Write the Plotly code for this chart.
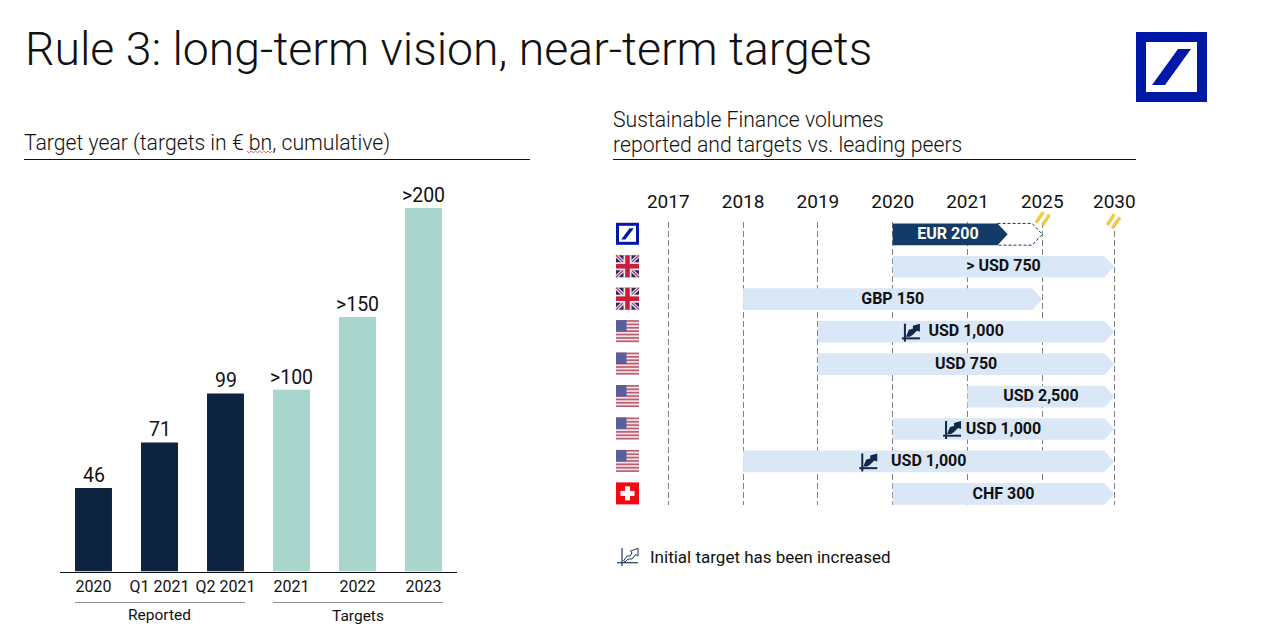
import plotly.graph_objects as go

W, H = 1264, 639
# ---- data
bar_categories = ["2020", "Q1 2021", "Q2 2021", "2021", "2022", "2023"]
bar_values = [46, 71, 98, 100, 140, 200]
bar_labels = ["46", "71", "99", ">100", ">150", ">200"]
bar_colors = ["#0d2340", "#0d2340", "#0d2340", "#a9d6cc", "#a9d6cc", "#a9d6cc"]

years = ["2017", "2018", "2019", "2020", "2021", "2025", "2030"]
year_pos = [0, 1, 2, 3, 4, 5, 5.963]
row_labels = ["EUR 200", "> USD 750", "GBP 150", "USD 1,000", "USD 750", "USD 2,500", "USD 1,000", "USD 1,000", "CHF 300"]
row_start = [3, 3, 1, 2, 2, 4, 3, 1, 3]
row_end = [4.537, 5.963, 5, 5.963, 5.963, 5.963, 5.963, 5.963, 5.963]
row_flags = ["db", "uk", "uk", "us", "us", "us", "us", "us", "ch"]
dashed_target_end = 5
icon_rows = [3, 6, 7]
icon_pos = [3.23, 3.78, 2.66]

BODY = "Roboto"
TXT = "#111111"
LIGHT = "#dae7f6"
NAVY = "#143a68"

# ---- pixel helpers for the page furniture
def px(x): return x / W
def py(y): return 1 - y / H

shapes = []
def rect(x0, y0, x1, y1, color):
    shapes.append(dict(type="rect", xref="paper", yref="paper", x0=px(x0), x1=px(x1), y0=py(y0), y1=py(y1),
                       fillcolor=color, line_width=0, layer="above"))
def line(x0, y0, x1, y1, color, width=1, layer="above"):
    shapes.append(dict(type="line", xref="paper", yref="paper", x0=px(x0), x1=px(x1), y0=py(y0), y1=py(y1),
                       line=dict(color=color, width=width), layer=layer))
def poly(pts, color, outline=None):
    path = "M " + " L ".join(f"{px(a):.5f},{py(b):.5f}" for a, b in pts) + " Z"
    d = dict(type="path", xref="paper", yref="paper", path=path, layer="above")
    if outline:
        d.update(fillcolor="rgba(0,0,0,0)", line=dict(color=outline, width=1))
    else:
        d.update(fillcolor=color, line_width=0)
    shapes.append(d)

def db_logo(x0, y0, size_w, size_h, border):
    blue = "#0018a8"
    rect(x0, y0, x0 + size_w, y0 + size_h, blue)
    rect(x0 + border, y0 + border, x0 + size_w - border, y0 + size_h - border, "white")
    sx, sy = size_w / 71, size_h / 70
    poly([(x0 + 16 * sx, y0 + 53 * sy), (x0 + 42 * sx, y0 + 17 * sy), (x0 + 55 * sx, y0 + 17 * sy), (x0 + 29 * sx, y0 + 53 * sy)], blue)

def uk(cy):
    x0, x1, y0, y1 = 616, 639, cy - 11, cy + 11
    cx = (x0 + x1) / 2
    rect(x0, y0, x1, y1, "#23296a")
    line(x0, y0, x1, y1, "#e6dfe6", 3.6); line(x0, y1, x1, y0, "#e6dfe6", 3.6)
    line(x0, y0, x1, y1, "#b3324c", 1.1); line(x0, y1, x1, y0, "#b3324c", 1.1)
    rect(cx - 4, y0, cx + 4, y1, "#f0e8ec"); rect(x0, cy - 4, x1, cy + 4, "#f0e8ec")
    rect(cx - 2.3, y0, cx + 2.3, y1, "#c8203c"); rect(x0, cy - 2.3, x1, cy + 2.3, "#c8203c")

def us(cy):
    x0, x1, y0, y1 = 616, 639, cy - 11, cy + 11
    rect(x0, y0, x1, y1, "#f3e3e6")
    for i in range(7):
        t = y0 + i * 22 / 6.5
        rect(x0, t, x1, t + 22 / 13, "#bd5f74")
    rect(x0, y0, x0 + 10.5, y0 + 11.5, "#5a5f98")

def ch(cy):
    x0, x1, y0, y1 = 616, 639, cy - 11, cy + 11
    cx = (x0 + x1) / 2
    rect(x0, y0, x1, y1, "#f00a14")
    rect(cx - 7, cy - 2.5, cx + 7, cy + 2.5, "white")
    rect(cx - 2.5, cy - 7, cx + 2.5, cy + 7, "white")

def icon(cx, cy, color="#10294a"):
    line(cx - 5, cy - 8, cx - 5, cy + 10, color, 2)
    line(cx - 8, cy + 6.7, cx + 10, cy + 6.7, color, 2)
    poly([(cx - 4, cy + 5), (cx - 1, cy - 2), (cx + 3, cy - 3), (cx + 3, cy - 6), (cx + 10, cy - 8),
          (cx + 10, cy), (cx + 7, cy - 1), (cx + 3, cy + 3), (cx, cy + 5)], color)

def legend_icon(color="#1d3a5c"):
    line(622, 548, 622, 566, color, 1.2)
    line(617, 562.7, 638, 562.7, color, 1.2)
    poly([(623.5, 561), (627, 556), (630, 556), (632, 553), (630.5, 551), (638, 548.5),
          (638, 556), (635.5, 554.5), (632, 559), (628, 559), (625, 562)], None, outline=color)

# x/y scale of the right-hand panel in page pixels
GX0, GU = 668.3, 74.8
GY0, GR = 234.3, 32.45
def gx(v): return GX0 + GU * v
def gy(r): return GY0 + GR * r

fig = go.Figure()

# ---- left: bars
fig.add_trace(go.Bar(x=bar_categories, y=bar_values, marker=dict(color=bar_colors, line_width=0), width=0.56,
                     cliponaxis=False, xaxis="x", yaxis="y", hoverinfo="x+y", showlegend=False))

# ---- right: timeline arrows
TIP = 0.135
HALF = 0.335
def arrow(a, b, r):
    return [a, b - TIP, b, b - TIP, a, a], [r - HALF, r - HALF, r, r + HALF, r + HALF, r - HALF]

for r, (a, b, lab) in enumerate(zip(row_start, row_end, row_labels)):
    if r == 0:
        xs, ys = arrow(b - TIP, dashed_target_end, r)
        fig.add_trace(go.Scatter(x=xs, y=ys, mode="lines", fill="toself", fillcolor="white",
                                 line=dict(color=NAVY, width=1, dash="3px,2px"),
                                 xaxis="x2", yaxis="y2", hoverinfo="skip", showlegend=False))
    xs, ys = arrow(a, b, r)
    fig.add_trace(go.Scatter(x=xs, y=ys, mode="lines", fill="toself", fillcolor=NAVY if r == 0 else LIGHT,
                             line=dict(width=0), xaxis="x2", yaxis="y2", hoverinfo="skip", showlegend=False))
    fig.add_trace(go.Scatter(x=[(a + b) / 2 - (0.03 if r == 0 else 0)], y=[r + 0.02], mode="text", text=[lab], textposition="middle center",
                             textfont=dict(family=BODY, size=16, weight=700, color="white" if r == 0 else TXT),
                             xaxis="x2", yaxis="y2", hoverinfo="skip", showlegend=False))

# ---- furniture
db_logo(1136, 32, 71, 70, 10)
line(24, 159.5, 530, 159.5, "#111111", 1)
line(613, 159.5, 1136, 159.5, "#111111", 1)
line(75, 602.5, 245, 602.5, "#8a9097", 1)
line(273, 602.5, 443, 602.5, "#8a9097", 1)

# spell-check squiggle under "bn"
sq = [(247 + i * 2.1, 151 + (i % 2) * 1.8) for i in range(13)]
for (a, b), (c, d) in zip(sq, sq[1:]):
    line(a, b, c, d, "#d9534f", 0.9)

for r, f in enumerate(row_flags):
    cy = gy(r) - 0.5
    if f == "db": db_logo(616, cy - 11, 23, 22, 3)
    elif f == "uk": uk(cy)
    elif f == "us": us(cy)
    else: ch(cy)

for r, v in zip(icon_rows, icon_pos):
    icon(gx(v), gy(r))
legend_icon()

for (a, b, c, d) in [(1036, 222.7, 1043.3, 212), (1042.7, 225.3, 1049.3, 214.7),
                     (1107.3, 225, 1114.3, 214.3), (1112.3, 228.3, 1120, 217.3)]:
    line(a, b, c, d, "#f2c84b", 3.4)

def note(x, y, text, size, anchor="left", weight=400, family=BODY):
    dx = -2 if anchor == "left" else 0
    return dict(xref="paper", yref="paper", x=px(x + dx), y=py(y), text=text, showarrow=False, xanchor=anchor, yanchor="middle",
                font=dict(family=family, size=size, color=TXT, weight=weight))

annotations = [
    note(24.5, 49, "Rule 3: long-term vision, near-term targets", 46.4, weight=300),
    note(24, 143, "Target year (targets in € bn, cumulative)", 21.2, weight=300),
    note(613, 119, "Sustainable Finance volumes", 21.2, weight=300),
    note(613, 144, "reported and targets vs. leading peers", 21.2, weight=300),
    note(159.5, 615, "Reported", 15.5, "center"),
    note(358, 616, "Targets", 15.5, "center"),
    note(650, 557, "Initial target has been increased", 17),
]
# value labels above the bars, anchored on the data (x is the category index)
for i, (v, lab) in enumerate(zip(bar_values, bar_labels)):
    annotations.append(dict(xref="x", yref="y", x=i, y=v, text=lab, showarrow=False, xanchor="center", yanchor="middle",
                            yshift=12.5, font=dict(family=BODY, size=19.5, color=TXT, weight=400)))

def bx(p): return (p - 93.5) / 66
fig.update_layout(
    width=W, height=H, margin=dict(l=0, r=0, t=0, b=0), autosize=False,
    paper_bgcolor="white", plot_bgcolor="white", showlegend=False,
    shapes=shapes, annotations=annotations,
    xaxis=dict(domain=[px(60), px(457)], range=[bx(60), bx(457)], type="category", categoryorder="array",
               categoryarray=bar_categories, showgrid=False, showline=True, linecolor="#111111", linewidth=1,
               ticks="", tickfont=dict(family=BODY, size=16, color=TXT), anchor="y", fixedrange=True),
    yaxis=dict(domain=[py(571.5), py(208)], range=[0, 200], visible=False, anchor="x", fixedrange=True),
    xaxis2=dict(domain=[px(600), px(1140)], range=[(600 - GX0) / GU, (1140 - GX0) / GU], side="top",
                tickmode="array", tickvals=year_pos, ticktext=years, ticks="", ticklabelstandoff=9,
                tickfont=dict(family=BODY, size=19, color=TXT), showgrid=True, griddash="6px,3px",
                gridcolor="#808080", gridwidth=1, zeroline=False, showline=False, anchor="y2", fixedrange=True),
    yaxis2=dict(domain=[py(505), py(222)], range=[(505 - GY0) / GR, (222 - GY0) / GR], visible=False,
                anchor="x2", fixedrange=True),
)

fig.write_html("out.html", config={"displayModeBar": False},
               post_script="document.body.style.margin='0';document.body.style.overflow='hidden';")
